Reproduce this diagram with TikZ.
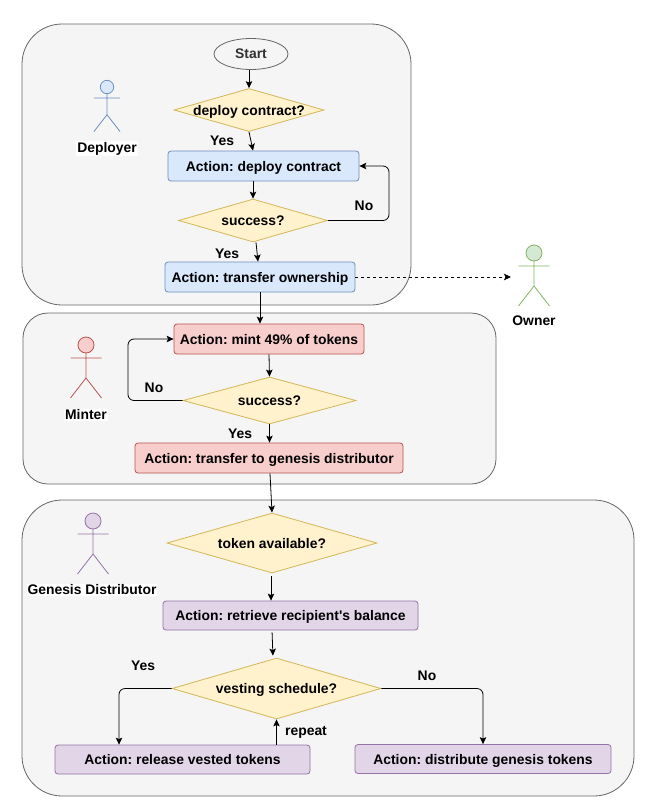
\documentclass[tikz,border=0pt]{standalone}
\usepackage{fontspec}
\setmainfont{Liberation Sans}
\usetikzlibrary{shapes.geometric, arrows.meta}
\frenchspacing

\definecolor{panelfill}{HTML}{F5F5F5}
\definecolor{panelline}{HTML}{666666}
\definecolor{starttext}{HTML}{333333}
\definecolor{bluefill}{HTML}{DAE8FC}
\definecolor{blueline}{HTML}{6C8EBF}
\definecolor{redfill}{HTML}{F8CECC}
\definecolor{redline}{HTML}{B85450}
\definecolor{purplefill}{HTML}{E1D5E7}
\definecolor{purpleline}{HTML}{9673A6}
\definecolor{yellowfill}{HTML}{FFF2CC}
\definecolor{yellowline}{HTML}{D6B656}
\definecolor{greenfill}{HTML}{D5E8D4}
\definecolor{greenline}{HTML}{82B366}

\tikzset{
  panel/.style={draw=panelline, fill=panelfill, rounded corners=#1, inner sep=0pt},
  level/.style={text height=10pt, text depth=0pt},
  action/.style={level, rounded corners=3pt, inner sep=0pt, minimum height=30pt},
  bluebox/.style={action, draw=blueline, fill=bluefill},
  redbox/.style={action, draw=redline, fill=redfill},
  purplebox/.style={action, draw=purpleline, fill=purplefill},
  question/.style={level, diamond, aspect=3, inner sep=-3pt, draw=yellowline, fill=yellowfill},
  tag/.style={level, inner sep=1pt},
  actorname/.style={fill=white, inner sep=1pt},
  flow/.style={->, rounded corners=6pt},
  person/.pic={
    \draw[fill=#1fill, draw=#1line] (0,0) circle (8);
    \draw[draw=#1line] (0,8) -- (0,33) (-15.5,13) -- (15.5,13)
      (-15.5,53) -- (0,33) -- (15.5,53);
  },
}

\begin{document}
\begin{tikzpicture}[>={Stealth[length=7pt, width=6.5pt, inset=1.5pt]}, x=1pt, y=-1pt, line width=.8pt,
  font=\fontsize{13.9}{16}\selectfont\bfseries]
\useasboundingbox (0,0) rectangle (661,808);

% Bereiche
\node[panel=40pt, minimum width=389pt, minimum height=281pt] (pdeploy) at (216.5,164.5) {};
\node[panel=25pt, minimum width=473pt, minimum height=171pt] (pmint) at (259.5,398.5) {};
\node[panel=40pt, minimum width=612pt, minimum height=296pt] (pgenesis) at (328,648) {};

% Akteure
\pic[scale=.84] at (107,87) {person=blue};
\node[actorname] (deployer) at (107,148.5) {Deployer};
\pic at (534,253) {person=green};
\node[actorname] (owner) at (534,321) {Owner};
\pic at (86,345) {person=red};
\node[actorname] (minter) at (86,415) {Minter};
\pic at (93,521) {person=purple};
\node[actorname] (gendist) at (92,590) {Genesis Distributor};
\coordinate (ownerhand) at (511,277);

% Deployer
\node[ellipse, level, draw=panelline, fill=panelfill, text=starttext, inner sep=0pt,
  minimum width=74pt, minimum height=31pt] (start) at (251,54) {Start};
\node[question, minimum width=150pt, minimum height=43pt] (askdeploy) at (249,110) {deploy contract?};
\node[bluebox, minimum width=191pt] (deploy) at (263.5,166) {Action: deploy contract};
\node[question, minimum width=149pt, minimum height=43pt] (oka) at (253,220.5) {success?};
\node[bluebox, minimum width=190pt] (transfer) at (260,277) {Action: transfer ownership};

% Minter
\node[redbox, minimum width=190pt] (mint) at (269,339) {Action: mint 49\% of tokens};
\node[question, minimum width=173pt, minimum height=47pt] (okb) at (269.5,400.5) {success?};
\node[redbox, minimum width=268pt] (togen) at (269,458) {Action: transfer to genesis distributor};

% Genesis Distributor
\node[question, minimum width=210pt, minimum height=60pt] (token) at (272,543) {token available?};
\node[purplebox, minimum width=255pt, minimum height=29pt] (balance) at (290.5,615.5) {Action: retrieve recipient\textquotesingle s balance};
\node[question, minimum width=209pt, minimum height=61pt] (vesting) at (276.5,688.5) {vesting schedule?};
\node[purplebox, minimum width=255pt, minimum height=29pt] (release) at (182.5,759.5) {Action: release vested tokens};
\node[purplebox, minimum width=256pt, minimum height=29pt] (distribute) at (483,759) {Action: distribute genesis tokens};

% Beschriftungen
\node[tag] (yesa) at (222,140) {Yes};
\node[tag] (noa) at (364,205) {No};
\node[tag] (yesb) at (227,253) {Yes};
\node[tag] (nob) at (154,387) {No};
\node[tag] (yesc) at (240,433) {Yes};
\node[tag] (yesd) at (143,665) {Yes};
\node[tag] (nod) at (427,675) {No};
\node[tag] (again) at (306,730) {repeat};

% Pfeile oben
\draw[->] (start.south -| askdeploy.north) -- (askdeploy.north);
\draw[->] (askdeploy.south) -- (deploy.north -| oka.north);
\draw[->] (deploy.south -| oka.north) -- (oka.north);
\draw[->] ([xshift=3pt]oka.south) -- ([xshift=-2pt]transfer.north);
\draw[flow] (oka.east) -| (389,166) -- (deploy.east);
\draw[->, dashed] (transfer.east) -- (ownerhand);

% Pfeile Mitte
\draw[->] (transfer.south) -- (transfer.south |- mint.north);
\draw[->] (mint.south) -- (okb.north);
\draw[flow] (okb.west) -| (128,339) -- (mint.west);
\draw[->] (okb.south) -- (togen.north -| okb.south);
\draw[->] ([xshift=1pt]togen.south) -- (token.north);

% Pfeile unten
\draw[->, shorten <=3pt] (token.south -| 271,0) -- (balance.north -| 271,0);
\draw[->, shorten <=2pt, shorten >=2pt] (balance.south -| 272,0) -- (vesting.north -| 273,0);
\draw[flow] (vesting.west) -| ([xshift=-63.5pt]release.north);
\draw[flow] (vesting.east) -| (distribute.north);
\draw[->] (vesting.south |- release.north) -- (vesting.south);

\end{tikzpicture}
\end{document}
